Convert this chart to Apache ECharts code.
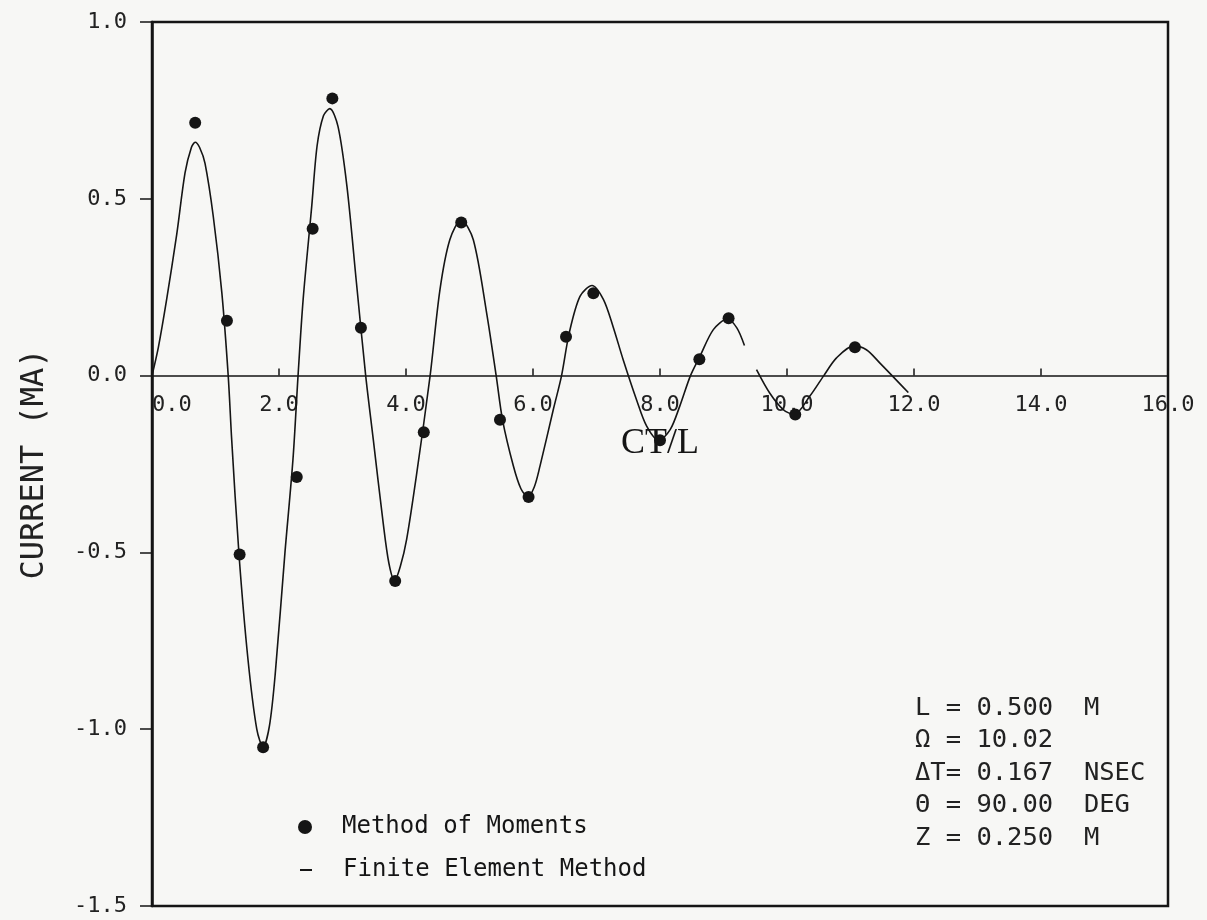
<!DOCTYPE html>
<html>
<head>
<meta charset="utf-8">
<script src="https://cdn.jsdelivr.net/npm/echarts@6/dist/echarts.min.js"></script>
<style>
  html, body { margin: 0; padding: 0; background: #f7f7f5; }
  #chart { width: 1207px; height: 920px; }
</style>
</head>
<body>
<div id="chart"></div>
<script>
// Finite element solution: induced current versus normalised time CT/L
// (a null marks the short break in the plotted trace)
const femX = [0.00, 0.10, 0.23, 0.39, 0.52, 0.62, 0.68, 0.75, 0.835, 0.965, 1.10, 1.20,
  1.255, 1.37, 1.51, 1.65, 1.75, 1.85, 1.94, 2.094, 2.22, 2.30, 2.38, 2.515, 2.60, 2.70,
  2.80, 2.93, 3.07, 3.22, 3.365, 3.485, 3.64, 3.73, 3.82, 3.91, 4.01, 4.17, 4.38, 4.535,
  4.69, 4.87, 5.06, 5.27, 5.42, 5.52, 5.69, 5.81, 5.92, 6.02, 6.11, 6.32, 6.45, 6.57,
  6.74, 6.93, 7.11, 7.26, 7.42, 7.63, 7.79, 7.98, 8.16, 8.31, 8.48, 8.63, 8.84,
  9.06, 9.21, 9.33, 9.42, 9.52, 9.73, 9.94, 10.11, 10.36, 10.58, 10.78, 11.05, 11.25,
  11.46, 11.91];
const femY = [0.00, 0.08, 0.215, 0.40, 0.573, 0.645, 0.66, 0.645, 0.60, 0.45, 0.234, 0.00,
  -0.181, -0.506, -0.80, -1.00, -1.051, -0.99, -0.845, -0.50, -0.237, 0.00, 0.215, 0.478, 0.65, 0.735,
  0.755, 0.704, 0.535, 0.262, 0.00, -0.181, -0.416, -0.53, -0.58, -0.54, -0.463, -0.275, 0.00, 0.243,
  0.384, 0.44, 0.384, 0.177, 0.00, -0.125, -0.255, -0.32, -0.342, -0.315, -0.256, -0.096, 0.00, 0.12,
  0.224, 0.255, 0.215, 0.139, 0.045, -0.068, -0.143, -0.183, -0.153, -0.087, 0.00, 0.055, 0.13,
  0.16, 0.135, 0.085, null, 0.017, -0.05, -0.096, -0.11, -0.058, 0.00, 0.05, 0.084, 0.073,
  0.036, -0.048];

// Method of moments samples
const momX = [0.68, 1.18, 1.38, 1.75, 2.28, 2.53, 2.84, 3.29, 3.83, 4.28, 4.87, 5.48, 5.93,
  6.52, 6.95, 8.00, 8.62, 9.08, 10.13, 11.07];
const momY = [0.715, 0.155, -0.506, -1.051, -0.287, 0.415, 0.784, 0.135, -0.581, -0.16, 0.433,
  -0.125, -0.343, 0.11, 0.233, -0.183, 0.046, 0.162, -0.11, 0.08];

// Axis ranges
const xRange = [0, 16];
const xStep = 2;
const yRange = [-1.5, 1.0];
const yStep = 0.5;

// Run parameters printed in the corner
const paramLines = [
  'L = 0.500  M',
  'Ω = 10.02',
  'ΔT= 0.167  NSEC',
  'Θ = 90.00  DEG',
  'Z = 0.250  M'
];

const seriesNames = ['Method of Moments', 'Finite Element Method'];

const ink = '#151515';
const plotFont = '"DejaVu Sans Mono", monospace';

const gridBox = { left: 152, right: 39, top: 22, bottom: 14 };
const chartH = 920;
const plotH = chartH - gridBox.top - gridBox.bottom;
// distance from the bottom edge of the frame up to the zero-current line
const zeroLift = plotH * (0 - yRange[0]) / (yRange[1] - yRange[0]);

const chart = echarts.init(document.getElementById('chart'), null, { renderer: 'canvas' });

chart.setOption({
  backgroundColor: '#f7f7f5',
  animation: false,
  grid: {
    left: gridBox.left, right: gridBox.right, top: gridBox.top, bottom: gridBox.bottom,
    outerBoundsMode: 'none',
    containLabel: false,
    show: true,
    borderColor: ink,
    borderWidth: 2.5,
    backgroundColor: 'transparent'
  },
  xAxis: {
    type: 'value',
    position: 'bottom',
    offset: -zeroLift,
    min: xRange[0], max: xRange[1], interval: xStep,
    name: 'CT/L',
    nameLocation: 'middle',
    nameGap: 50,
    nameTextStyle: { fontFamily: '"Liberation Serif", serif', fontSize: 36, color: ink },
    axisLine: { onZero: false, lineStyle: { color: ink, width: 1.5 } },
    axisTick: { show: true, inside: true, length: 7, lineStyle: { color: ink, width: 1.5 } },
    axisLabel: {
      margin: 19,
      fontFamily: plotFont, fontSize: 22, color: '#222',
      showMinLabel: true, showMaxLabel: true,
      alignMinLabel: 'left',
      formatter: v => v.toFixed(1)
    },
    splitLine: { show: false }
  },
  yAxis: {
    type: 'value',
    min: yRange[0], max: yRange[1], interval: yStep,
    name: 'CURRENT (MA)',
    nameLocation: 'middle',
    nameGap: 101,
    nameTextStyle: { fontFamily: plotFont, fontSize: 32, color: '#222' },
    axisLine: { show: true, onZero: false, lineStyle: { color: ink, width: 2.5 } },
    axisTick: { show: true, inside: false, length: 12, lineStyle: { color: ink, width: 1.5 } },
    axisLabel: {
      margin: 25,
      fontFamily: plotFont, fontSize: 22, color: '#222',
      formatter: v => v.toFixed(1)
    },
    splitLine: { show: false }
  },
  legend: [
    {
      data: [{ name: seriesNames[0], icon: 'circle' }],
      left: 298, top: 815,
      padding: 0,
      itemWidth: 14, itemHeight: 14,
      textStyle: { fontFamily: plotFont, fontSize: 24, color: ink, padding: [0, 0, 0, 25] },
      selectedMode: false
    },
    {
      data: [{ name: seriesNames[1], icon: 'rect' }],
      left: 300, top: 858,
      padding: 0,
      itemWidth: 12, itemHeight: 2,
      textStyle: { fontFamily: plotFont, fontSize: 24, color: ink, padding: [0, 0, 0, 26] },
      selectedMode: false
    }
  ],
  graphic: [
    {
      type: 'text',
      left: 915,
      top: 692,
      style: {
        text: paramLines.join('\n'),
        font: '25.5px "DejaVu Sans Mono", monospace',
        lineHeight: 32.5,
        fill: '#222'
      }
    }
  ],
  series: [
    {
      name: seriesNames[1],
      type: 'line',
      data: femX.map((x, i) => [x, femY[i]]),
      smooth: 0.3,
      showSymbol: false,
      connectNulls: false,
      lineStyle: { color: ink, width: 1.6 },
      itemStyle: { color: ink },
      z: 3
    },
    {
      name: seriesNames[0],
      type: 'scatter',
      data: momX.map((x, i) => [x, momY[i]]),
      symbol: 'circle',
      symbolSize: 12,
      itemStyle: { color: ink, opacity: 1 },
      z: 4
    }
  ]
});
</script>
</body>
</html>
